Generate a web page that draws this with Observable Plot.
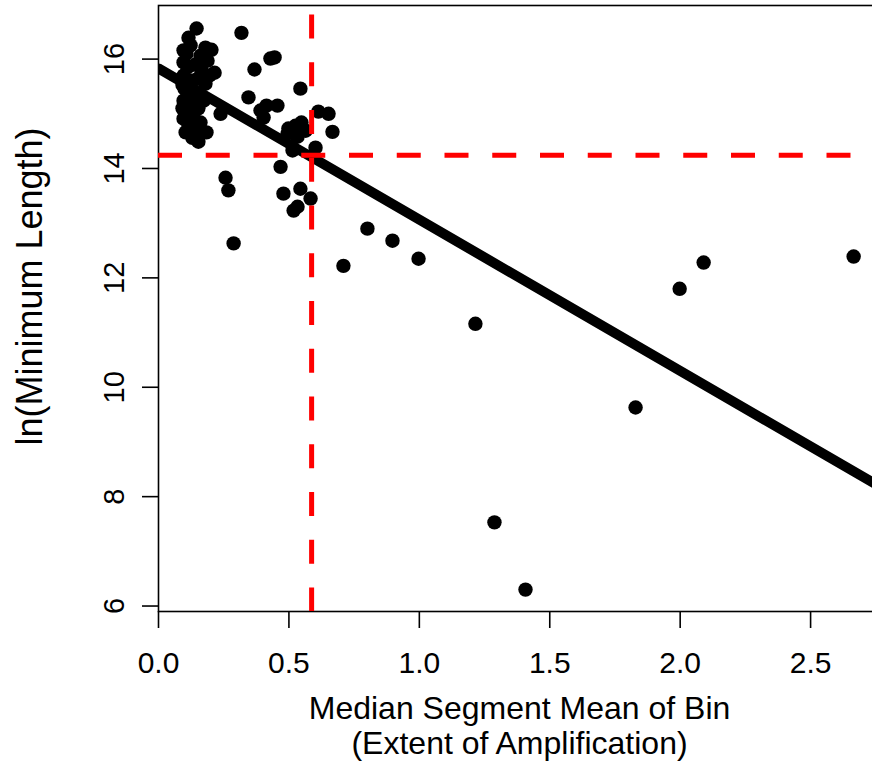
<!DOCTYPE html>
<html>
<head>
<meta charset="utf-8">
<script src="https://cdn.jsdelivr.net/npm/d3@7"></script>
<script src="https://cdn.jsdelivr.net/npm/@observablehq/plot@0.6"></script>
<style>
  html, body { margin: 0; padding: 0; background: white; overflow: hidden; }
  #chart svg { display: block; }
</style>
</head>
<body>
<div id="chart"></div>
<script>
// Median segment mean of bin (extent of amplification)
const segMean = [
  0.146, 0.115, 0.096, 0.107, 0.123, 0.180, 0.203, 0.161, 0.188, 0.215,
  0.096, 0.115, 0.142, 0.165, 0.196, 0.096, 0.123, 0.150, 0.180, 0.100,
  0.130, 0.157, 0.096, 0.123, 0.153, 0.104, 0.134, 0.096, 0.115, 0.161,
  0.104, 0.142, 0.184, 0.153, 0.130, 0.111, 0.173, 0.092, 0.092, 0.238,
  0.318, 0.368, 0.429, 0.445, 0.544, 0.345, 0.391, 0.414, 0.456, 0.403,
  0.498, 0.525, 0.548, 0.613, 0.652, 0.667, 0.602, 0.514, 0.533, 0.495,
  0.564, 0.468, 0.479, 0.544, 0.583, 0.533, 0.518, 0.257, 0.268, 0.288,
  0.709, 0.801, 0.897, 0.997, 1.215, 1.288, 1.407, 1.829, 1.998, 2.090,
  2.665
];
// ln(minimum length)
const lnMinLength = [
  16.56, 16.39, 16.16, 16.10, 16.25, 16.21, 16.17, 16.06, 15.97, 15.75,
  15.94, 15.86, 15.90, 15.79, 15.70, 15.70, 15.61, 15.64, 15.55, 15.46,
  15.39, 15.33, 15.24, 15.17, 15.10, 15.02, 14.93, 14.91, 14.78, 14.84,
  14.66, 14.69, 14.66, 14.49, 14.56, 15.31, 15.24, 15.53, 15.10, 15.00,
  16.48, 15.81, 16.01, 16.03, 15.46, 15.30, 15.06, 15.15, 15.15, 14.93,
  14.73, 14.78, 14.84, 15.04, 15.00, 14.67, 14.38, 14.33, 14.58, 14.64,
  14.69, 14.03, 13.54, 13.63, 13.45, 13.30, 13.23, 13.83, 13.60, 12.63,
  12.22, 12.90, 12.68, 12.35, 11.16, 7.53, 6.30, 9.63, 11.80, 12.28,
  12.39
];
// fitted regression line and threshold lines
const fitIntercept = 15.83;
const fitSlope = -2.765;
const thresholdX = 0.587;
const thresholdY = 14.24;

const xTicks = [0, 0.5, 1.0, 1.5, 2.0, 2.5];
const yTicks = [6, 8, 10, 12, 14, 16];
const xDomain = [0, 2.768];
const yDomain = [5.90, 16.98];
const xTitle1 = "Median Segment Mean of Bin";
const xTitle2 = "(Extent of Amplification)";
const yTitle = "ln(Minimum Length)";

const points = segMean.map((x, i) => ({x, y: lnMinLength[i]}));
const fitLine = xDomain.map(x => ({x, y: fitIntercept + fitSlope * x}));

const FONT = "Liberation Sans, Arial, Helvetica, sans-serif";

const chart = Plot.plot({
  width: 872,
  height: 765,
  marginLeft: 158,
  marginRight: -8,
  marginTop: 5,
  marginBottom: 154,
  style: {fontFamily: FONT, background: "white", color: "black"},
  x: {domain: xDomain},
  y: {domain: yDomain},
  marks: [
    Plot.frame({stroke: "black", strokeWidth: 1.6}),
    Plot.axisX({ticks: xTicks, tickFormat: d3.format(".1f"), tickSize: 17, tickPadding: 23,
      fontSize: 30, label: null, strokeWidth: 1.6}),
    Plot.axisY({ticks: yTicks, tickSize: 16, tickFormat: () => "", label: null, strokeWidth: 1.6}),
    Plot.text(yTicks, {y: d => d, text: d => String(d), frameAnchor: "left", dx: -44,
      rotate: -90, textAnchor: "middle", lineAnchor: "middle", fontSize: 29, fill: "black"}),
    Plot.text([yTitle], {text: d => d, frameAnchor: "left", dx: -128, dy: -22, rotate: -90,
      textAnchor: "middle", lineAnchor: "middle", fontSize: 36, fill: "black"}),
    Plot.text([xTitle1], {text: d => d, frameAnchor: "bottom", dy: 97, lineAnchor: "middle",
      fontSize: 32, fill: "black"}),
    Plot.text([xTitle2], {text: d => d, frameAnchor: "bottom", dy: 132, lineAnchor: "middle",
      fontSize: 32, fill: "black"}),
    Plot.dot(points, {x: "x", y: "y", r: 7.2, fill: "black", stroke: null}),
    Plot.line(fitLine, {x: "x", y: "y", stroke: "black", strokeWidth: 10, clip: true}),
    Plot.ruleX([thresholdX], {stroke: "#ff0000", strokeWidth: 5, strokeDasharray: "24,23.75",
      strokeDashoffset: 38.25}),
    Plot.ruleY([thresholdY], {stroke: "#ff0000", strokeWidth: 5, strokeDasharray: "24,23.75"})
  ]
});
document.getElementById("chart").appendChild(chart);
</script>
</body>
</html>
